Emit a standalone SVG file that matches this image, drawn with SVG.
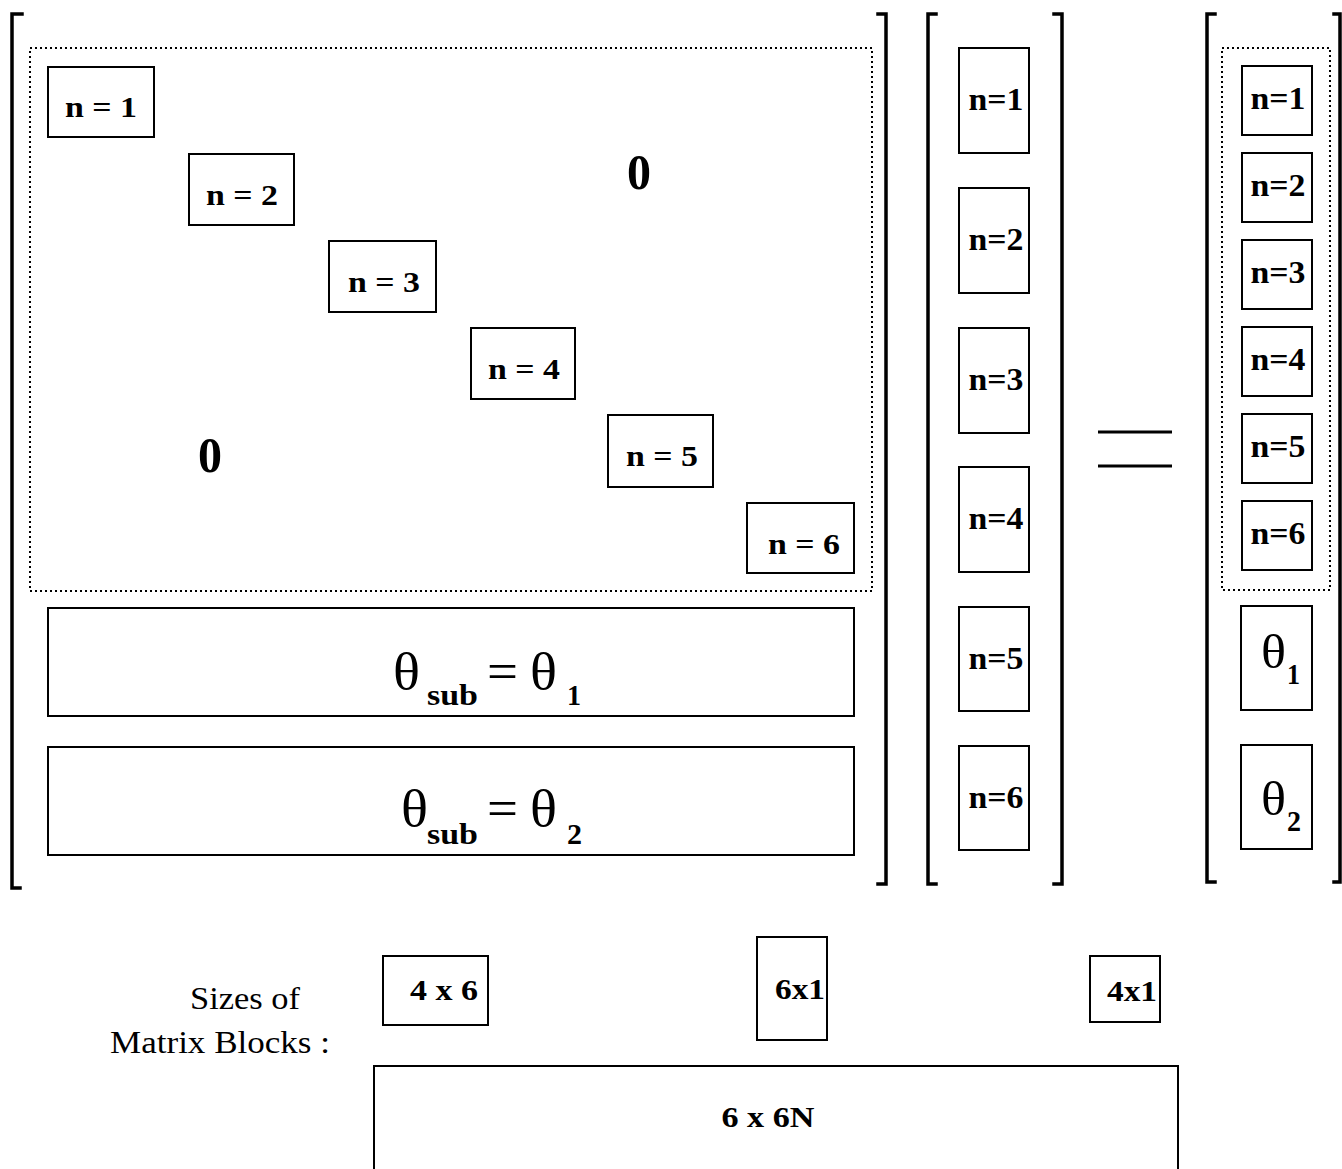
<svg xmlns="http://www.w3.org/2000/svg" width="1342" height="1169" viewBox="0 0 1342 1169">
<style>
.bk{fill:none;stroke:#000;stroke-width:3.5;stroke-linecap:square}
.box{fill:#fff;stroke:#000;stroke-width:2}
.dot{fill:none;stroke:#000;stroke-width:2;stroke-dasharray:2 3}
.lb{font-family:"Liberation Serif",serif;font-weight:bold;fill:#000;text-anchor:middle}
.n{font-size:30px}
.v{font-size:32px}
.z{font-size:50px}
.th{font-family:"Liberation Serif",serif;font-size:52px;fill:#000}
.th2{font-family:"Liberation Serif",serif;font-size:48px;fill:#000}
.sb{font-family:"Liberation Serif",serif;font-weight:bold;font-size:30px;fill:#000}
.rg{font-family:"Liberation Serif",serif;font-size:32px;fill:#000}
</style>
<rect width="1342" height="1169" fill="#fff"/>
<g id="brackets">
<path class="bk" d="M22 14 H12 V888 H20"/>
<path class="bk" d="M878 14 H886 V884 H878"/>
<path class="bk" d="M936 14 H928 V884 H936"/>
<path class="bk" d="M1054 14 H1062 V884 H1054"/>
<path class="bk" d="M1215 14 H1207 V882 H1215"/>
<path class="bk" d="M1334 14 H1340 V882 H1334"/>
</g>
<g id="big-matrix">
<rect class="dot" x="30" y="48" width="842" height="543"/>
<g id="b1"><rect class="box" x="48" y="67" width="106" height="70"/><text class="lb n" x="101" y="117" textLength="72" lengthAdjust="spacingAndGlyphs">n = 1</text></g>
<g id="b2"><rect class="box" x="189" y="154" width="105" height="71"/><text class="lb n" x="242" y="205" textLength="72" lengthAdjust="spacingAndGlyphs">n = 2</text></g>
<g id="b3"><rect class="box" x="329" y="241" width="107" height="71"/><text class="lb n" x="384" y="292" textLength="72" lengthAdjust="spacingAndGlyphs">n = 3</text></g>
<g id="b4"><rect class="box" x="471" y="328" width="104" height="71"/><text class="lb n" x="524" y="379" textLength="72" lengthAdjust="spacingAndGlyphs">n = 4</text></g>
<g id="b5"><rect class="box" x="608" y="415" width="105" height="72"/><text class="lb n" x="662" y="466" textLength="72" lengthAdjust="spacingAndGlyphs">n = 5</text></g>
<g id="b6"><rect class="box" x="747" y="503" width="107" height="70"/><text class="lb n" x="804" y="554" textLength="72" lengthAdjust="spacingAndGlyphs">n = 6</text></g>
<text class="lb z" x="639" y="189" textLength="24" lengthAdjust="spacingAndGlyphs">0</text>
<text class="lb z" x="210" y="472" textLength="24" lengthAdjust="spacingAndGlyphs">0</text>
<g id="t1"><rect class="box" x="48" y="608" width="806" height="108"/>
<text class="th" x="393" y="689" textLength="27" lengthAdjust="spacingAndGlyphs">θ</text><text class="sb" x="427" y="705" textLength="51" lengthAdjust="spacingAndGlyphs">sub</text><text class="th" x="487" y="689" textLength="31" lengthAdjust="spacingAndGlyphs">=</text><text class="th" x="530" y="689" textLength="27" lengthAdjust="spacingAndGlyphs">θ</text><text class="sb" x="567" y="705" textLength="14" lengthAdjust="spacingAndGlyphs">1</text></g>
<g id="t2"><rect class="box" x="48" y="747" width="806" height="108"/>
<text class="th" x="401" y="826" textLength="27" lengthAdjust="spacingAndGlyphs">θ</text><text class="sb" x="427" y="844" textLength="51" lengthAdjust="spacingAndGlyphs">sub</text><text class="th" x="487" y="826" textLength="31" lengthAdjust="spacingAndGlyphs">=</text><text class="th" x="530" y="826" textLength="27" lengthAdjust="spacingAndGlyphs">θ</text><text class="sb" x="567" y="844" textLength="15" lengthAdjust="spacingAndGlyphs">2</text></g>
</g>
<g id="mid-vector">
<g id="m1"><rect class="box" x="959" y="48" width="70" height="105"/><text class="lb v" x="996" y="110" textLength="55" lengthAdjust="spacingAndGlyphs">n=1</text></g>
<g id="m2"><rect class="box" x="959" y="188" width="70" height="105"/><text class="lb v" x="996" y="250" textLength="55" lengthAdjust="spacingAndGlyphs">n=2</text></g>
<g id="m3"><rect class="box" x="959" y="328" width="70" height="105"/><text class="lb v" x="996" y="390" textLength="55" lengthAdjust="spacingAndGlyphs">n=3</text></g>
<g id="m4"><rect class="box" x="959" y="467" width="70" height="105"/><text class="lb v" x="996" y="529" textLength="55" lengthAdjust="spacingAndGlyphs">n=4</text></g>
<g id="m5"><rect class="box" x="959" y="607" width="70" height="104"/><text class="lb v" x="996" y="669" textLength="55" lengthAdjust="spacingAndGlyphs">n=5</text></g>
<g id="m6"><rect class="box" x="959" y="746" width="70" height="104"/><text class="lb v" x="996" y="808" textLength="55" lengthAdjust="spacingAndGlyphs">n=6</text></g>
</g>
<g id="equals">
<line x1="1098" y1="432" x2="1172" y2="432" stroke="#000" stroke-width="3"/>
<line x1="1098" y1="466" x2="1172" y2="466" stroke="#000" stroke-width="3"/>
</g>
<g id="right-vector">
<rect class="dot" x="1222" y="48" width="108" height="542"/>
<g id="r1"><rect class="box" x="1242" y="66" width="70" height="69"/><text class="lb v" x="1278" y="109" textLength="55" lengthAdjust="spacingAndGlyphs">n=1</text></g>
<g id="r2"><rect class="box" x="1242" y="153" width="70" height="69"/><text class="lb v" x="1278" y="196" textLength="55" lengthAdjust="spacingAndGlyphs">n=2</text></g>
<g id="r3"><rect class="box" x="1242" y="240" width="70" height="69"/><text class="lb v" x="1278" y="283" textLength="55" lengthAdjust="spacingAndGlyphs">n=3</text></g>
<g id="r4"><rect class="box" x="1242" y="327" width="70" height="69"/><text class="lb v" x="1278" y="370" textLength="55" lengthAdjust="spacingAndGlyphs">n=4</text></g>
<g id="r5"><rect class="box" x="1242" y="414" width="70" height="69"/><text class="lb v" x="1278" y="457" textLength="55" lengthAdjust="spacingAndGlyphs">n=5</text></g>
<g id="r6"><rect class="box" x="1242" y="501" width="70" height="69"/><text class="lb v" x="1278" y="544" textLength="55" lengthAdjust="spacingAndGlyphs">n=6</text></g>
<g id="rt1"><rect class="box" x="1241" y="606" width="71" height="104"/><text class="th2" x="1261" y="668" textLength="25" lengthAdjust="spacingAndGlyphs">θ</text><text class="sb" x="1287" y="684" textLength="13" lengthAdjust="spacingAndGlyphs">1</text></g>
<g id="rt2"><rect class="box" x="1241" y="745" width="71" height="104"/><text class="th2" x="1261" y="815" textLength="25" lengthAdjust="spacingAndGlyphs">θ</text><text class="sb" x="1287" y="831" textLength="14" lengthAdjust="spacingAndGlyphs">2</text></g>
</g>
<g id="sizes">
<text class="rg" x="190" y="1009" textLength="110" lengthAdjust="spacingAndGlyphs">Sizes of</text>
<text class="rg" x="110" y="1053" textLength="220" lengthAdjust="spacingAndGlyphs">Matrix Blocks :</text>
<g id="s1"><rect class="box" x="383" y="956" width="105" height="69"/><text class="lb n" x="444" y="1000" textLength="68" lengthAdjust="spacingAndGlyphs">4 x 6</text></g>
<g id="s2"><rect class="box" x="757" y="937" width="70" height="103"/><text class="lb n" x="800" y="999" textLength="50" lengthAdjust="spacingAndGlyphs">6x1</text></g>
<g id="s3"><rect class="box" x="1090" y="956" width="70" height="66"/><text class="lb n" x="1132" y="1001" textLength="50" lengthAdjust="spacingAndGlyphs">4x1</text></g>
<g id="s4"><rect class="box" x="374" y="1066" width="804" height="110"/><text class="lb n" x="768" y="1127" textLength="93" lengthAdjust="spacingAndGlyphs">6 x 6N</text></g>
</g>
</svg>
